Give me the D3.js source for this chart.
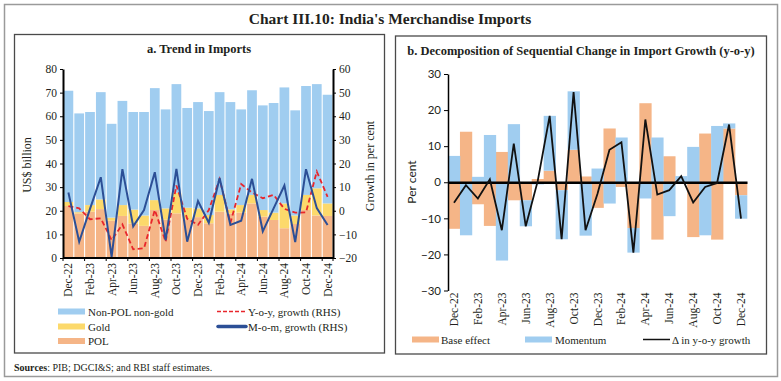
<!DOCTYPE html>
<html><head><meta charset="utf-8">
<script src="https://cdn.jsdelivr.net/npm/d3@7/dist/d3.min.js"></script>
<style>
html,body{margin:0;padding:0;background:#fff;}
svg{display:block;}
.serif{font-family:"Liberation Serif","Times New Roman",serif;}
.sans{font-family:Lato,"Open Sans",sans-serif;}
</style></head>
<body>
<svg id="c" width="781" height="381"></svg>
<script>
// ---------- DATA ----------
const months = ["Dec-22","Jan-23","Feb-23","Mar-23","Apr-23","May-23","Jun-23","Jul-23","Aug-23","Sep-23","Oct-23","Nov-23","Dec-23","Jan-24","Feb-24","Mar-24","Apr-24","May-24","Jun-24","Jul-24","Aug-24","Sep-24","Oct-24","Nov-24","Dec-24"];
const tickMonths = ["Dec-22","Feb-23","Apr-23","Jun-23","Aug-23","Oct-23","Dec-23","Feb-24","Apr-24","Jun-24","Aug-24","Oct-24","Dec-24"];
// Panel a (US$ billion)
const pol     = [22.0,18.9,19.6,20.7,15.8,17.8,14.6,13.6,20.3,16.2,18.9,16.4,17.3,14.7,19.6,18.9,19.2,23.1,17.5,16.1,12.6,14.4,20.3,18.0,17.8];
const gold    = [1.7,0.5,2.8,4.1,1.3,4.6,5.9,4.4,4.2,4.8,8.7,4.9,3.7,3.5,7.1,1.7,3.2,3.6,2.8,3.1,10.5,3.6,6.4,11.5,5.3];
const nonPolNonGold = [47.1,41.8,39.4,45.4,39.7,44.1,41.3,43.8,47.4,41.9,46.0,42.2,45.0,44.0,43.5,45.4,40.5,44.3,44.3,46.4,49.1,44.5,46.1,44.1,46.0];
// growth, per cent (RHS)
const yoyGrowth = [2.0,1.0,-3.6,-3.2,-12.4,-5.8,-16.3,-15.9,0.3,-13.1,10.7,-3.4,-6.0,0.3,13.4,-5.1,11.3,7.7,5.3,6.7,0.8,-0.8,-0.7,16.6,5.9];
const momGrowth = [7.7,-13.1,0.8,14.2,-19.5,17.6,-6.6,0.3,16.3,-12.4,17.7,-13.1,4.1,-5.1,13.9,-6.0,-4.2,13.5,-8.7,1.0,10.7,-13.3,17.6,1.1,-6.0];
// Panel b (per cent)
const baseEffect = [-12.9,14.0,-6.1,-12.1,8.4,-5.0,-5.0,0.9,3.2,-2.2,9.0,1.6,-7.1,14.9,-1.3,-12.7,21.9,-15.9,7.2,0.0,-15.2,13.5,-15.9,14.9,-3.6];
const momentum   = [7.3,-14.7,1.5,13.1,-21.7,16.1,-7.2,-0.6,15.2,-13.6,16.2,-14.8,3.8,-5.9,12.4,-6.8,-4.5,12.4,-9.4,1.7,9.8,-14.7,15.6,1.4,-6.5];
const deltaYoy   = [-5.7,-0.8,-4.5,0.8,-13.3,10.7,-12.2,0.3,18.4,-15.8,25.0,-13.3,-3.2,9.0,11.1,-19.5,17.4,-3.4,-2.2,1.7,-5.6,-1.3,-0.2,16.0,-10.1];
const leftTicks = [0,10,20,30,40,50,60,70,80];
const rightTicks = [-20,-10,0,10,20,30,40,50,60];
const bTicks = [-30,-20,-10,0,10,20,30];

// ---------- STYLE ----------
const C = {blue:"#a0cdf0", gold:"#fcd96b", orange:"#f5b587", red:"#e8262c", navy:"#2c4f96", text:"#231f20"};

const svg = d3.select("#c");
// outer frame
svg.append("rect").attr("x",4.5).attr("y",4.5).attr("width",773).attr("height",372)
  .attr("fill","none").attr("stroke","#9a9a9a").attr("stroke-width",1.5);
svg.append("text").attr("class","serif").attr("x",390).attr("y",24).attr("text-anchor","middle")
  .attr("font-size",15.5).attr("font-weight","bold").attr("fill",C.text)
  .text("Chart III.10: India's Merchandise Imports");
// panel frames
svg.append("rect").attr("x",14.5).attr("y",34.5).attr("width",370).attr("height",318.5)
  .attr("fill","none").attr("stroke","#4a4a4a").attr("stroke-width",1.3);
svg.append("rect").attr("x",395.5).attr("y",36).attr("width",371).attr("height",318)
  .attr("fill","none").attr("stroke","#4a4a4a").attr("stroke-width",1.3);
// sources
const src = svg.append("text").attr("class","serif").attr("x",14).attr("y",371).attr("font-size",10).attr("fill",C.text);
src.append("tspan").attr("font-weight","bold").text("Sources");
src.append("tspan").text(": PIB; DGCI&S; and RBI staff estimates.");

// ================= PANEL A =================
const gA = svg.append("g");
gA.append("text").attr("class","serif").attr("x",199).attr("y",53).attr("text-anchor","middle")
  .attr("font-size",12.5).attr("font-weight","bold").attr("fill",C.text).text("a. Trend in Imports");

const xA = d3.scaleBand().domain(months).range([63,333]).paddingInner(0.1).paddingOuter(0.05);
const yA = d3.scaleLinear().domain([0,80]).range([258,69]);
const yA2 = d3.scaleLinear().domain([-20,60]).range([258,69]);

const rowsA = months.map((m,i)=>({m, pol:pol[i], gold:gold[i], non:nonPolNonGold[i]}));
const stackA = d3.stack().keys(["pol","gold","non"])(rowsA);
const colA = {pol:C.orange, gold:C.gold, non:C.blue};
gA.append("g").selectAll("g").data(stackA).join("g").attr("fill",d=>colA[d.key])
  .selectAll("rect").data(d=>d).join("rect")
  .attr("x",d=>xA(d.data.m)).attr("width",xA.bandwidth())
  .attr("y",d=>yA(d[1])).attr("height",d=>yA(d[0])-yA(d[1]));

// lines
const lineA = d3.line().x((d,i)=>xA(months[i])+xA.bandwidth()/2).y(d=>yA2(d));
gA.append("path").datum(yoyGrowth).attr("d",lineA).attr("fill","none").attr("stroke",C.red)
  .attr("stroke-width",1.8).attr("stroke-dasharray","5,3");
gA.append("path").datum(momGrowth).attr("d",lineA).attr("fill","none").attr("stroke",C.navy)
  .attr("stroke-width",2).attr("stroke-linejoin","miter");

// axes
function styleAxis(g, w){
  g.select(".domain").attr("stroke","#000").attr("stroke-width",w);
  g.selectAll(".tick line").attr("stroke","#000");
}
const axL = gA.append("g").attr("transform","translate(63,0)")
  .call(d3.axisLeft(yA).tickValues(leftTicks).tickSize(3).tickSizeOuter(0).tickPadding(3));
styleAxis(axL,2);
axL.selectAll("text").attr("class","serif").attr("font-size",11.5).attr("fill",C.text);
const axR = gA.append("g").attr("transform","translate(333,0)")
  .call(d3.axisRight(yA2).tickValues(rightTicks).tickSize(3).tickSizeOuter(0).tickPadding(3));
styleAxis(axR,2);
axR.selectAll("text").attr("class","serif").attr("font-size",11.5).attr("fill",C.text);
const axB = gA.append("g").attr("transform","translate(0,258)")
  .call(d3.axisBottom(xA).tickValues(tickMonths).tickSize(0).tickSizeOuter(0));
styleAxis(axB,2);
axB.select(".domain").attr("d","M63,0H333");
axB.selectAll("text").attr("class","serif").attr("font-size",11.5).attr("fill",C.text)
  .attr("transform","rotate(-90)").attr("x",-5).attr("y",0).attr("dy","0.35em").attr("text-anchor","end");
// x tick marks at every other band boundary
const bndA = months.filter((m,i)=>i%2===0).map(m=>xA(m)-xA.step()*xA.paddingInner()/2).concat([333]);
axB.selectAll(".bt").data(bndA).join("line").attr("class","bt")
  .attr("x1",d=>d).attr("x2",d=>d).attr("y1",0).attr("y2",3).attr("stroke","#000");

gA.append("text").attr("class","serif").attr("transform","translate(31,165) rotate(-90)")
  .attr("text-anchor","middle").attr("font-size",12).attr("fill",C.text).text("US$ billion");
gA.append("text").attr("class","serif").attr("transform","translate(374,166) rotate(-90)")
  .attr("text-anchor","middle").attr("font-size",12).attr("fill",C.text).text("Growth in per cent");

// legend A
const legA = gA.append("g").attr("class","serif").attr("font-size",11).attr("fill",C.text);
[["Non-POL non-gold",C.blue,311.5],["Gold",C.gold,326.5],["POL",C.orange,341]].forEach(([t,c,y])=>{
  legA.append("rect").attr("x",58).attr("y",y-3).attr("width",27).attr("height",6).attr("fill",c);
  legA.append("text").attr("x",88).attr("y",y+4).text(t);
});
legA.append("line").attr("x1",217).attr("x2",247).attr("y1",311.5).attr("y2",311.5)
  .attr("stroke",C.red).attr("stroke-width",1.6).attr("stroke-dasharray","4,2");
legA.append("text").attr("x",248).attr("y",315.5).text("Y-o-y, growth (RHS)");
legA.append("line").attr("x1",218).attr("x2",246).attr("y1",326.5).attr("y2",326.5)
  .attr("stroke",C.navy).attr("stroke-width",3.5).attr("stroke-linecap","round");
legA.append("text").attr("x",248).attr("y",330.5).text("M-o-m, growth (RHS)");

// ================= PANEL B =================
const gB = svg.append("g");
gB.append("text").attr("class","serif").attr("x",581).attr("y",55).attr("text-anchor","middle")
  .attr("font-size",12.5).attr("font-weight","bold").attr("fill",C.text)
  .text("b. Decomposition of Sequential Change in Import Growth (y-o-y)");

const xB = d3.scaleBand().domain(months).range([448,747]).padding(0);
const yB = d3.scaleLinear().domain([-30,30]).range([290.5,74]);
const rowsB = months.map((m,i)=>({m, base:baseEffect[i], mom:momentum[i]}));
const stackB = d3.stack().keys(["base","mom"]).offset(d3.stackOffsetDiverging)(rowsB);
const colB = {base:C.orange, mom:C.blue};
gB.append("g").selectAll("g").data(stackB).join("g").attr("fill",d=>colB[d.key])
  .selectAll("rect").data(d=>d).join("rect")
  .attr("x",d=>xB(d.data.m)).attr("width",xB.bandwidth()+0.3)
  .attr("y",d=>yB(Math.max(d[0],d[1]))).attr("height",d=>Math.abs(yB(d[0])-yB(d[1])));

const axBL = gB.append("g").attr("transform","translate(448,0)")
  .call(d3.axisLeft(yB).tickValues(bTicks).tickSize(4).tickSizeOuter(0).tickPadding(3));
styleAxis(axBL,1.5);
axBL.selectAll("text").attr("class","sans").attr("font-size",11.5).attr("fill",C.text);
// zero line
const axB0 = gB.append("g").attr("transform",`translate(0,${yB(0)})`)
  .call(d3.axisBottom(xB).tickValues([]).tickSizeOuter(0));
axB0.select(".domain").attr("stroke","#000").attr("stroke-width",2.5);
// month labels
const axBB = gB.append("g").attr("transform","translate(0,290.5)")
  .call(d3.axisBottom(xB).tickValues(tickMonths).tickSize(0).tickSizeOuter(0));
axBB.select(".domain").remove();
axBB.selectAll("text").attr("class","serif").attr("font-size",11.5).attr("fill",C.text)
  .attr("transform","rotate(-90)").attr("x",-2).attr("y",0).attr("dy","0.35em").attr("text-anchor","end");

const lineB = d3.line().x((d,i)=>xB(months[i])+xB.bandwidth()/2).y(d=>yB(d));
gB.append("path").datum(deltaYoy).attr("d",lineB).attr("fill","none").attr("stroke","#111")
  .attr("stroke-width",1.8);

gB.append("text").attr("class","sans").attr("transform","translate(416,182) rotate(-90)")
  .attr("text-anchor","middle").attr("font-size",12).attr("fill",C.text).text("Per cent");

const legB = gB.append("g").attr("class","serif").attr("font-size",11).attr("fill",C.text);
legB.append("rect").attr("x",412).attr("y",336.5).attr("width",27).attr("height",6).attr("fill",C.orange);
legB.append("text").attr("x",441).attr("y",343.5).text("Base effect");
legB.append("rect").attr("x",525).attr("y",336.5).attr("width",27).attr("height",6).attr("fill",C.blue);
legB.append("text").attr("x",555).attr("y",343.5).text("Momentum");
legB.append("line").attr("x1",643).attr("x2",670).attr("y1",339.5).attr("y2",339.5).attr("stroke","#111").attr("stroke-width",1.5);
legB.append("text").attr("x",672).attr("y",343.5).text("Δ in y-o-y growth");
</script>
</body></html>
